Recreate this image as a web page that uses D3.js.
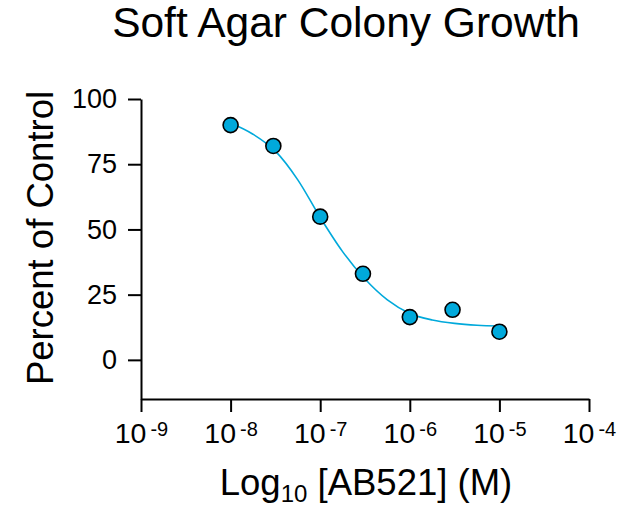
<!DOCTYPE html>
<html>
<head>
<meta charset="utf-8">
<script src="https://cdn.jsdelivr.net/npm/d3@7"></script>
<style>
  html, body { margin: 0; padding: 0; background: #fff; }
  svg { display: block; font-family: "Liberation Sans", Arial, Helvetica, sans-serif; }
</style>
</head>
<body>
<svg id="chart" width="625" height="507"></svg>
<script>
// Dose (M) and colony growth (% of control)
const concentrations = [1e-8, 3e-8, 1e-7, 3e-7, 1e-6, 3e-6, 1e-5];
const percentControl = [90.0, 82.0, 54.9, 33.0, 16.4, 19.2, 10.8];

// Fitted dose-response curve, sampled along log10 dose
const curveLogDose = [-8, -7.75, -7.5, -7.25, -7, -6.75, -6.5, -6.25, -6, -5.75, -5.5, -5.25, -5];
const curvePercent = [90.8, 86.5, 80.0, 69.0, 54.6, 41.5, 31.0, 23.0, 17.8, 15.3, 14.0, 13.3, 13.0];

// Axis ticks
const xTickExponents = [-9, -8, -7, -6, -5, -4];
const yTicks = [0, 25, 50, 75, 100];

const svg = d3.select("#chart");
const color = "#00A9DB";

const x = d3.scaleLog().domain([1e-9, 1e-4]).range([141, 589]);
const y = d3.scaleLinear().domain([-15, 100]).range([399, 99]);

// Y axis
const yAxis = svg.append("g")
  .attr("transform", "translate(141,0)")
  .call(d3.axisLeft(y).tickValues(yTicks).tickSize(13).tickSizeOuter(0).tickPadding(11));
yAxis.select(".domain").attr("stroke", "#000").attr("stroke-width", 2);
yAxis.selectAll(".tick line").attr("stroke", "#000").attr("stroke-width", 2);
yAxis.selectAll(".tick text")
  .attr("font-size", 27).attr("fill", "#000")
  .attr("font-family", "Liberation Sans, Arial, sans-serif");

// X axis (log scale, decade ticks)
const xAxis = svg.append("g")
  .attr("transform", "translate(0,399)")
  .call(d3.axisBottom(x).tickValues(xTickExponents.map(e => Math.pow(10, e)))
    .tickSize(13).tickSizeOuter(0).tickFormat(""));
xAxis.select(".domain").attr("stroke", "#000").attr("stroke-width", 2);
xAxis.selectAll(".tick line").attr("stroke", "#000").attr("stroke-width", 2);
xAxis.selectAll(".tick text").remove();
xAxis.selectAll(".tick").each(function(d, i) {
  const t = d3.select(this).append("text")
    .attr("y", 44)
    .attr("text-anchor", "middle")
    .attr("fill", "#000")
    .attr("font-family", "Liberation Sans, Arial, sans-serif");
  t.append("tspan").attr("font-size", 28.5).text("10");
  t.append("tspan").attr("font-size", 20).attr("dx", 4).attr("dy", -7).text(String(xTickExponents[i]));
});

// Fitted curve
const line = d3.line()
  .x((d, i) => x(Math.pow(10, curveLogDose[i])))
  .y(d => y(d))
  .curve(d3.curveMonotoneX);
svg.append("path")
  .datum(curvePercent)
  .attr("d", line)
  .attr("fill", "none")
  .attr("stroke", color)
  .attr("stroke-width", 1.6);

// Data points
svg.append("g").selectAll("circle")
  .data(concentrations)
  .join("circle")
  .attr("cx", d => x(d))
  .attr("cy", (d, i) => y(percentControl[i]))
  .attr("r", 7.5)
  .attr("fill", color)
  .attr("stroke", "#000")
  .attr("stroke-width", 1.6);

// Title
svg.append("text")
  .attr("x", 346).attr("y", 37)
  .attr("text-anchor", "middle")
  .attr("font-size", 42.5)
  .attr("fill", "#000")
  .text("Soft Agar Colony Growth");

// Y axis title
svg.append("text")
  .attr("transform", "translate(53,238) rotate(-90)")
  .attr("text-anchor", "middle")
  .attr("font-size", 36.5)
  .attr("fill", "#000")
  .text("Percent of Control");

// X axis title with subscript
const xt = svg.append("text")
  .attr("x", 366).attr("y", 495)
  .attr("text-anchor", "middle")
  .attr("font-size", 36.5)
  .attr("fill", "#000");
xt.append("tspan").text("Log");
xt.append("tspan").attr("font-size", 24).attr("dy", 7).text("10");
xt.append("tspan").attr("dy", -7).text(" [AB521] (M)");
</script>
</body>
</html>
